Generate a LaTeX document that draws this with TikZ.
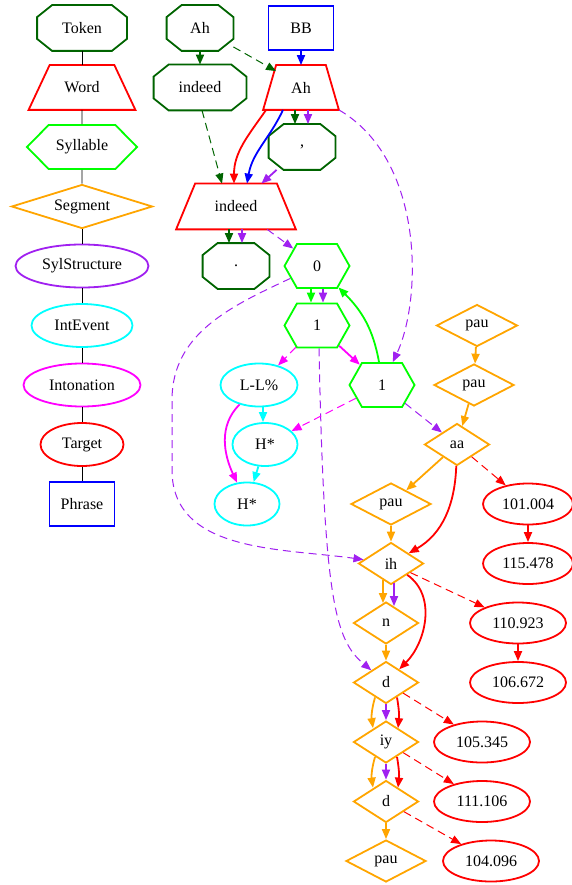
\documentclass[tikz,border=0pt]{standalone}
\usepackage{fontspec}
\setmainfont{Liberation Serif}
\usepackage{tikz}
\usepackage{xcolor}
\usetikzlibrary{arrows.meta,shapes.geometric,shapes.symbols}

\definecolor{gvdkgreen}{RGB}{0,100,0}
\definecolor{gvgreen}{RGB}{0,255,0}
\definecolor{gvorange}{RGB}{255,165,0}
\definecolor{gvpurple}{RGB}{160,32,240}
\definecolor{gvcyan}{RGB}{0,255,255}
\definecolor{gvmagenta}{RGB}{255,0,255}
\definecolor{gvred}{RGB}{255,0,0}
\definecolor{gvblue}{RGB}{0,0,255}

\begin{document}
\begin{tikzpicture}[x=1pt,y=1pt,
  font=\fontsize{16}{19}\selectfont,
  every node/.style={line width=1.8pt,inner sep=0pt},
  tok/.style={rectangle,minimum width=65pt,minimum height=44pt},
  wrd/.style={rectangle,minimum height=43pt},
  syl/.style={signal,signal to=east and west,signal pointer angle=121,draw=gvgreen,minimum width=65pt,minimum height=44pt},
  seg/.style={diamond,aspect=3,draw=gvorange,minimum width=65pt,minimum height=42pt},
  ell/.style={ellipse,minimum height=43pt},
  num/.style={ellipse,draw=gvred,minimum width=96pt,minimum height=41pt},
  phr/.style={rectangle,draw=gvblue,minimum width=65pt,minimum height=44pt},
  outline/.style={line width=1.8pt,line join=miter},
  se/.style={-{Triangle[length=10pt,width=8pt]},line width=1.8pt},
  de/.style={-{Triangle[length=10pt,width=8pt]},line width=1pt,dash pattern=on 8pt off 5pt}]
\useasboundingbox (0,0) rectangle (571,-885);

\node[tok,minimum width=88pt] (lToken) at (82,-28) {Token};
\node[wrd,minimum width=105pt] (lWord) at (82,-87.5) {Word};
\node[syl,minimum width=110pt,signal pointer angle=91] (lSyllable) at (82,-147) {Syllable};
\node[seg,minimum width=141pt,minimum height=44pt] (lSegment) at (82,-206.5) {Segment};
\node[ell,draw=gvpurple,minimum width=133pt] (lSylStructure) at (82,-266) {SylStructure};
\node[ell,draw=gvcyan,minimum width=101pt] (lIntEvent) at (82,-325.5) {IntEvent};
\node[ell,draw=gvmagenta,minimum width=117pt] (lIntonation) at (82,-385) {Intonation};
\node[ell,draw=gvred,minimum width=83pt] (lTarget) at (82,-444.5) {Target};
\node[phr] (lPhrase) at (82,-504) {Phrase};

\node[tok] (tAh) at (200,-28) {Ah};
\node[phr] (bb) at (301,-28) {BB};
\node[tok,minimum width=91pt] (tIndeed) at (200,-87.5) {indeed};
\node[wrd,minimum width=74pt] (wAh) at (301,-87.5) {Ah};
\node[tok] (tComma) at (302,-147) {,};
\node[wrd,minimum width=118pt,minimum height=44pt] (wIndeed) at (236,-206.5) {indeed};
\node[tok] (tDot) at (236,-266) {.};
\node[syl] (s0) at (317,-266) {0};
\node[syl] (s1a) at (317,-325.5) {1};
\node[syl] (s1b) at (382,-385) {1};
\node[ell,draw=gvcyan,minimum width=77pt] (ieLL) at (259,-385) {L-L\%};
\node[ell,draw=gvcyan,minimum width=65pt] (ieH1) at (265,-444.5) {H*};
\node[ell,draw=gvcyan,minimum width=65pt] (ieH2) at (247,-504) {H*};
\node[seg,minimum width=81pt] (gPau1) at (477,-325.5) {pau};
\node[seg,minimum width=80pt] (gPau2) at (474,-385) {pau};
\node[seg] (gAa) at (457,-444.5) {aa};
\node[seg,minimum width=80pt] (gPau3) at (391,-504) {pau};
\node[seg] (gIh) at (391,-563.5) {ih};
\node[seg] (gN) at (386,-623) {n};
\node[seg] (gD1) at (386,-682.5) {d};
\node[seg] (gIy) at (386,-742) {iy};
\node[seg] (gD2) at (386,-801.5) {d};
\node[seg,minimum width=80pt] (gPau4) at (386,-861) {pau};
\node[num,minimum width=90pt] (v101) at (528,-504) {101.004};
\node[num,minimum width=90pt] (v115) at (528,-563.5) {115.478};
\node[num] (v110) at (518,-623) {110.923};
\node[num] (v106) at (518,-682.5) {106.672};
\node[num] (v105) at (482,-742) {105.345};
\node[num] (v111) at (482,-801.5) {111.106};
\node[num] (v104) at (491,-861) {104.096};

% octagons and trapeziums
\foreach \n in {lToken,tAh,tIndeed,tComma,tDot}{
  \draw[outline,gvdkgreen] ([xshift=15pt]\n.north west) -- ([xshift=-15pt]\n.north east) -- ([yshift=-12pt]\n.north east) -- ([yshift=12pt]\n.south east) -- ([xshift=-15pt]\n.south east) -- ([xshift=15pt]\n.south west) -- ([yshift=12pt]\n.south west) -- ([yshift=-12pt]\n.north west) -- cycle;
}
\foreach \n/\d in {lWord/21,wAh/13,wIndeed/19}{
  \draw[outline,gvred] (\n.south west) -- (\n.south east) -- ([xshift=-\d pt]\n.north east) -- ([xshift=\d pt]\n.north west) -- cycle;
}

\foreach \a/\b in {lToken/lWord,lWord/lSyllable,lSyllable/lSegment,lSegment/lSylStructure,lSylStructure/lIntEvent,lIntEvent/lIntonation,lIntonation/lTarget,lTarget/lPhrase}{
  \draw[line width=0.8pt] (\a) -- (\b);
}

\draw[se,gvdkgreen] (tAh) -- (tIndeed);
\draw[de,gvdkgreen] (tAh) -- ([shift={(-25,-6)}]wAh.north);
\draw[se,gvblue] (bb) -- (wAh);
\draw[de,gvdkgreen] ([xshift=2pt]tIndeed.south) -- ([xshift=-14pt]wIndeed.north);
\draw[se,gvdkgreen] ([xshift=-6pt]wAh.south) -- ([xshift=-7pt]tComma.north);
\draw[se,gvpurple] ([xshift=7pt]wAh.south) -- ([xshift=6pt]tComma.north);
\draw[se,gvred] ([xshift=3pt]wAh.south west) to[out=235,in=90] ([xshift=-2pt]wIndeed.north);
\draw[se,gvblue] ([xshift=-18pt]wAh.south) to[out=245,in=80] ([xshift=11pt]wIndeed.north);
\draw[se,gvpurple] (tComma) -- (wIndeed);
\draw[de,gvpurple] (wAh.south east) .. controls (425,-160) and (422,-300) .. (s1b);
\draw[se,gvdkgreen] ([xshift=-7pt]wIndeed.south) -- ([xshift=-7pt]tDot.north);
\draw[se,gvpurple] ([xshift=6pt]wIndeed.south) -- ([xshift=6pt]tDot.north);
\draw[de,gvpurple] (wIndeed) -- (s0);

\draw[se,gvgreen] ([xshift=-6pt]s0.south) -- ([xshift=-6pt]s1a.north);
\draw[se,gvpurple] ([xshift=6pt]s0.south) -- ([xshift=6pt]s1a.north);
\draw[de,gvpurple] (s0) to[out=205,in=90] (172,-400) -- (172,-470) to[out=270,in=172] (gIh);
\draw[de,gvmagenta] (s1a) -- (ieLL);
\draw[se,gvmagenta] (s1a) -- (s1b);
\draw[se,gvgreen] ([xshift=-3pt]s1b.north) to[out=100,in=-45] (s0);
\draw[de,gvpurple] ([xshift=2pt]s1a.south) .. controls (324,-600) and (335,-640) .. (gD1);
\draw[de,gvmagenta] (s1b) -- (ieH1);
\draw[de,gvpurple] (s1b) -- (gAa);

\draw[se,gvcyan] ([xshift=4pt]ieLL.south) -- ([xshift=-2pt]ieH1.north);
\draw[se,gvmagenta] (ieLL) to[out=225,in=115] (ieH2);
\draw[se,gvcyan] (ieH1) -- (ieH2);

\draw[se,gvorange] (gPau1) -- (gPau2);
\draw[se,gvorange] (gPau2) -- (gAa);
\draw[se,gvorange] (gAa) -- (gPau3);
\draw[se,gvred] (gAa) to[out=-92,in=30] (gIh);
\draw[se,gvorange] (gPau3) -- (gIh);
\draw[se,gvorange] ([shift={(-8,5)}]gIh.south) -- ([shift={(-3,-2)}]gN.north);
\draw[se,gvpurple] ([shift={(3,2)}]gIh.south) -- ([shift={(8,-5)}]gN.north);
\draw[se,gvred] (gIh) to[out=-35,in=45] (gD1);
\draw[se,gvorange] (gN) -- (gD1);
\foreach \a/\b in {gD1/gIy,gIy/gD2}{
  \draw[se,gvorange] ([shift={(-11,7)}]\a.south) to[bend right=12] ([shift={(-13,-8)}]\b.north);
  \draw[se,gvpurple] (\a.south) -- (\b.north);
  \draw[se,gvred] ([shift={(11,7)}]\a.south) to[bend left=8] ([shift={(12,-8)}]\b.north);
}
\draw[se,gvorange] (gD2) -- (gPau4);

\foreach \a/\b in {gAa/v101,gIh/v110,gD1/v105,gIy/v111,gD2/v104}{
  \draw[de,gvred] (\a) -- (\b);
}
\foreach \a/\b in {v101/v115,v110/v106}{
  \draw[se,gvred] (\a) -- (\b);
}
\end{tikzpicture}
\end{document}
